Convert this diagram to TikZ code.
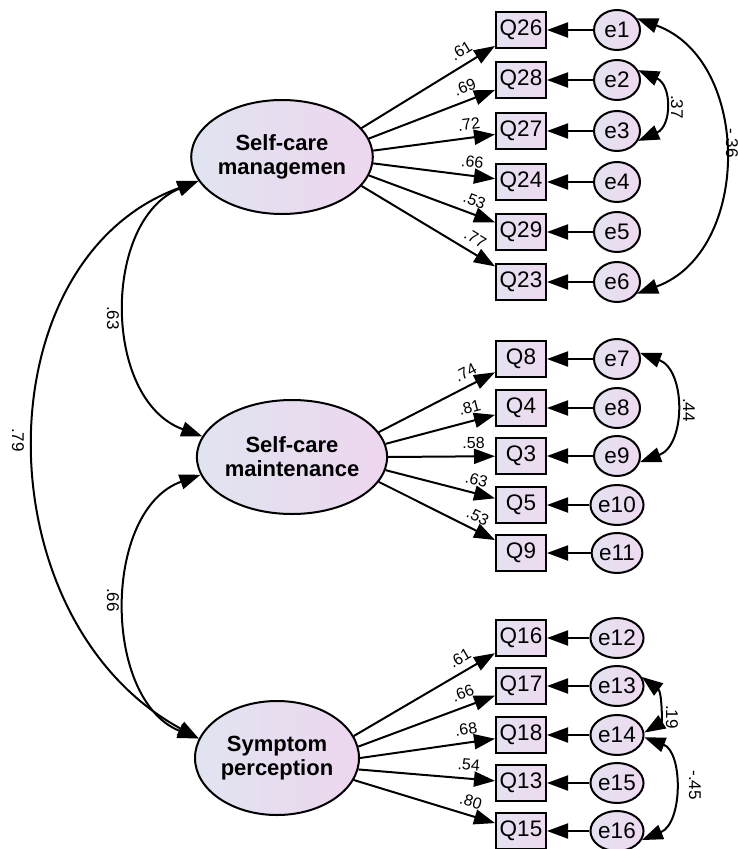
\documentclass[tikz,border=0pt]{standalone}
\usepackage{fontspec}
\setmainfont{Liberation Sans}
\usetikzlibrary{arrows.meta,shapes.geometric}
\definecolor{latL}{HTML}{E0E4F0}
\definecolor{latR}{HTML}{EED6EF}
\definecolor{boxL}{HTML}{E4E2F0}
\definecolor{boxR}{HTML}{EEDAF0}
\begin{document}
\begin{tikzpicture}[x=1pt,y=-1pt,line width=2pt,
  >={Triangle[length=21pt,width=15pt]},
  lat/.style={ellipse,draw,minimum width=164pt,minimum height=114pt,inner sep=0pt,
    left color=latL,right color=latR,align=center,
    font=\bfseries\fontsize{22}{24}\selectfont},
  obs/.style={rectangle,draw,minimum width=50pt,minimum height=36pt,inner sep=0pt,
    left color=boxL,right color=boxR,font=\fontsize{22.5}{24}\selectfont},
  err/.style={ellipse,draw,minimum width=46pt,minimum height=40pt,inner sep=0pt,
    left color=boxL,right color=boxR,font=\fontsize{22.5}{24}\selectfont},
  ld/.style={font=\fontsize{16}{17}\selectfont,sloped,above=6.5pt,pos=0.8,inner sep=0.5pt},
  cv/.style={font=\fontsize{17}{18}\selectfont,rotate=-90,inner sep=1pt}]
\useasboundingbox (0,0) rectangle (738,849);

% latent variables
\node[lat] (scm) at (282,157) {Self-care\\managemen};
\node[lat] (mnt) at (292,457) {Self-care\\maintenance};
\node[lat] (sym) at (277,758) {Symptom\\perception};

% observed and error variables
\foreach \q/\e/\y in {26/1/30,28/2/80,27/3/131,24/4/182,29/5/232,23/6/282,
                      8/7/359,4/8/408,3/9/456,5/10/505,9/11/553,
                      16/12/638,17/13/686,18/14/735,13/15/783,15/16/831}{
  \node[obs] (q\q) at (521,\y) {Q\q};
  \node[err] (e\e) at (617,\y) {e\e};
  \draw[->] (e\e) -- (q\q);
}

% loadings
\foreach \q/\a/\v in {26/20/.61,28/12/.69,27/4/.72,24/-4/.66,29/-12/.53,23/-20/.77}{
  \draw[->] (scm.\a) -- node[ld]{\v} (q\q);
}
\foreach \q/\a/\v in {8/16/.74,4/8/.81,3/0/.58,5/-8/.63,9/-16/.53}{
  \draw[->] (mnt.\a) -- node[ld]{\v} (q\q);
}
\foreach \q/\a/\v in {16/16/.61,17/8/.66,18/0/.68,13/-8/.54,15/-16/.80}{
  \draw[->] (sym.\a) -- node[ld]{\v} (q\q);
}

% latent covariances
\draw[<->] (scm.196) .. controls (102,220) and (102,400) .. (mnt.167);
\draw[<->] (mnt.191) .. controls (102,510) and (102,700) .. (sym.166);
\draw[<->] (scm.196) .. controls (-19,260) and (-19,620) .. (sym.166);
\node[cv] (c63) at (113,318) {.63};
\node[cv] (c66) at (113,600) {.66};
\node[cv] (c79) at (18,440) {.79};

% error covariances
\draw[<->] (e1.30) .. controls (752,60) and (752,252) .. (e6.-30);
\draw[<->] (e2.25) .. controls (672,85) and (672,126) .. (e3.-25);
\draw[<->] (e7.15) .. controls (686,370) and (686,445) .. (e9.-15);
\draw[<->] (e13.20) .. controls (662,692) and (662,722) .. (e14.5);
\draw[<->] (e14.-5) .. controls (683,752) and (683,823) .. (e16.-20);
\node[cv] (c37) at (677,107) {.37};
\node[cv] (c36) at (732,143) {-.36};
\node[cv] (c44) at (689,410) {.44};
\node[cv] (c19) at (672,717) {.19};
\node[cv] (c45) at (695,785) {-.45};
\end{tikzpicture}
\end{document}
